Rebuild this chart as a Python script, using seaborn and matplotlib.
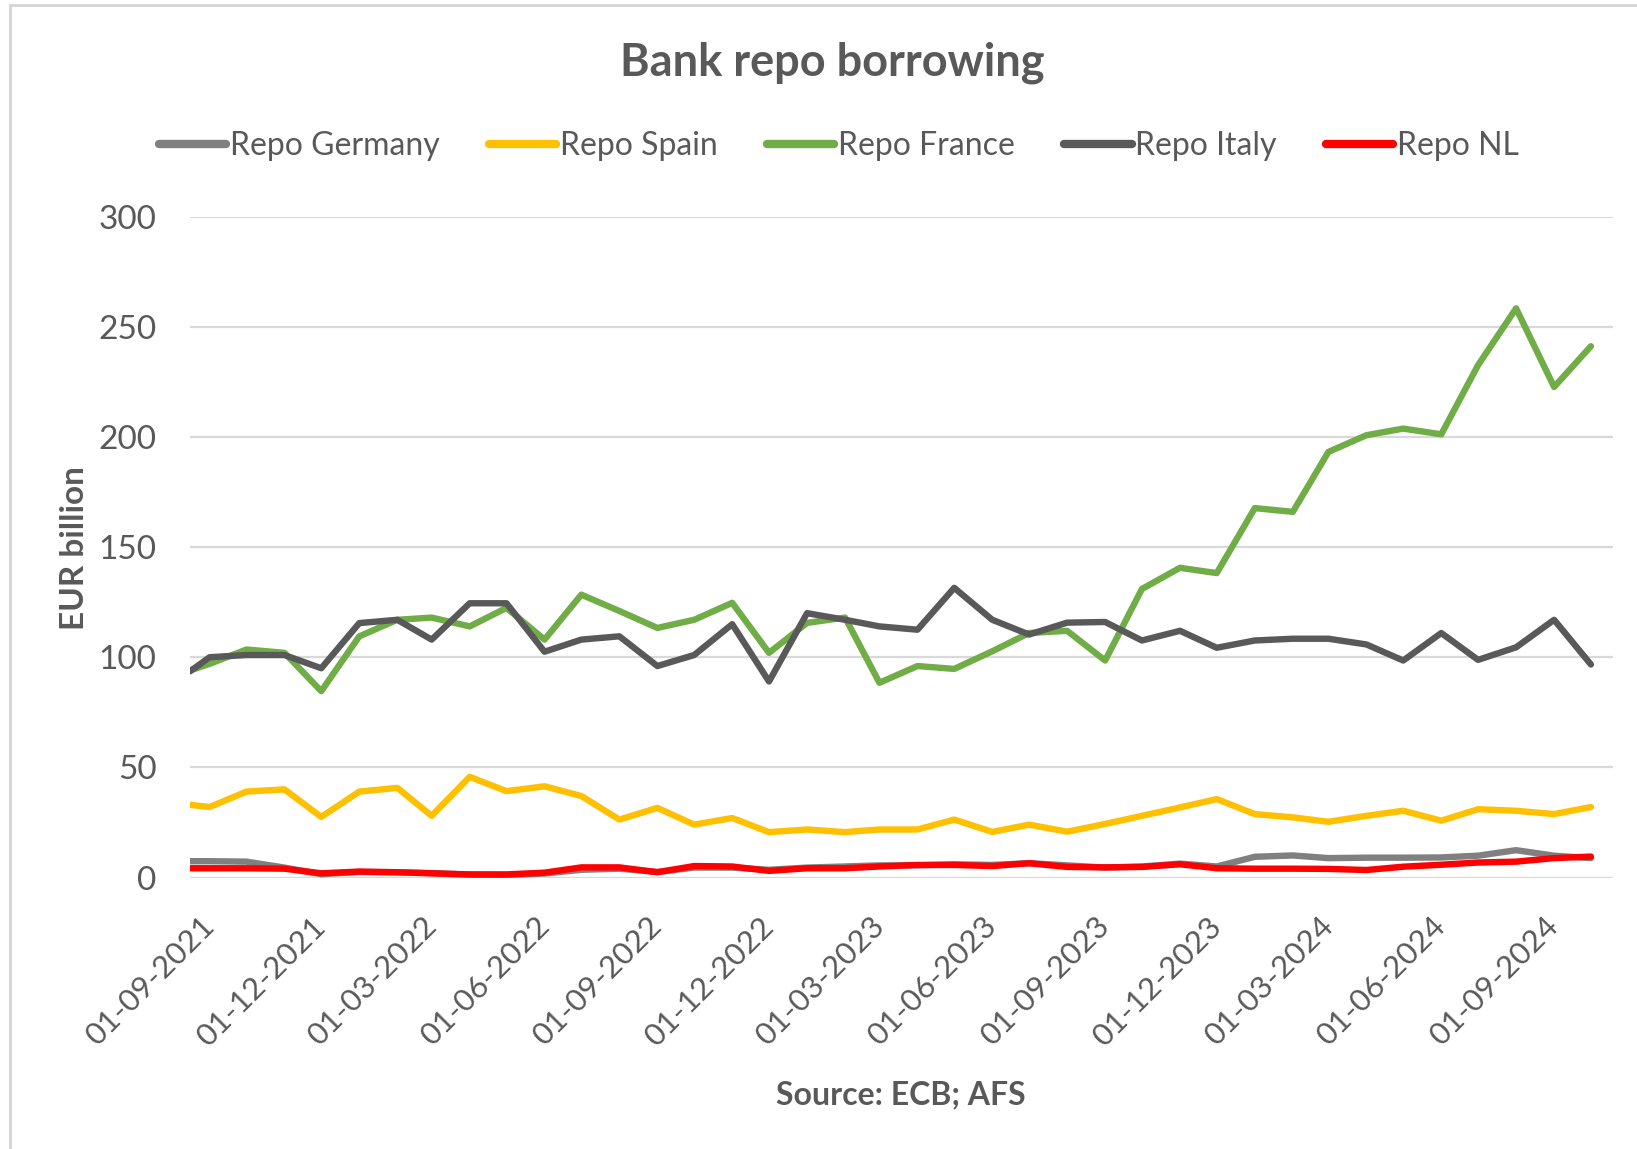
import matplotlib
matplotlib.use("Agg")
import matplotlib.pyplot as plt
import matplotlib.patches as mpatches
import seaborn as sns
import pandas as pd

# ---------------- data ----------------
first_date = ["2021-08-16"]
monthly_dates = [d.strftime("%Y-%m-%d") for d in pd.date_range("2021-09-01", "2024-10-01", freq="MS")]
dates = pd.to_datetime(first_date + monthly_dates)

series_names = ["Repo Germany", "Repo Spain", "Repo France", "Repo Italy", "Repo NL"]
series_colors = ["#808080", "#FFC000", "#70AD47", "#595959", "#FF0000"]

repo_germany = [7.4, 7.4, 7.2, 4.5, 1.5, 2.5, 2.3, 2.0, 1.3, 1.2, 1.8, 3.5, 4.0, 2.5, 4.5,
                4.5, 3.5, 4.5, 5.0, 5.5, 5.5, 6.0, 5.7, 6.5, 5.5, 4.5, 5.0, 6.3, 5.0, 9.4,
                10.0, 8.8, 9.0, 9.0, 9.1, 9.9, 12.4, 9.9, 8.8]
repo_spain = [33.0, 32.0, 39.0, 40.0, 27.5, 39.0, 40.7, 28.0, 45.7, 39.2, 41.4, 37.0, 26.3,
              31.6, 24.0, 27.0, 20.6, 21.8, 20.6, 21.8, 21.8, 26.3, 20.7, 24.0, 20.8, 24.3,
              28.0, 31.8, 35.6, 28.8, 27.3, 25.3, 28.0, 30.3, 25.8, 31.0, 30.3, 28.8, 32.0]
repo_france = [94.0, 97.0, 103.5, 102.0, 84.6, 109.5, 117.0, 118.0, 114.0, 122.4, 108.0,
               128.4, 121.0, 113.3, 117.0, 124.7, 102.0, 115.6, 118.0, 88.4, 96.0, 94.7,
               102.7, 111.0, 112.0, 98.5, 131.0, 140.6, 138.2, 167.7, 166.0, 193.2, 200.8,
               203.8, 201.2, 232.6, 258.4, 222.7, 241.2]
repo_italy = [93.6, 100.0, 101.0, 101.0, 95.0, 115.5, 117.0, 108.0, 124.5, 124.5, 102.5,
              108.0, 109.5, 96.0, 101.0, 115.0, 89.0, 120.0, 117.0, 114.0, 112.5, 131.5,
              117.0, 110.3, 115.7, 116.0, 107.6, 112.0, 104.3, 107.6, 108.4, 108.4, 105.8,
              98.5, 111.0, 98.8, 104.5, 117.0, 96.7]
repo_nl = [4.2, 4.2, 4.2, 4.0, 1.9, 2.7, 2.4, 1.9, 1.4, 1.4, 2.2, 4.6, 4.6, 2.4, 5.2, 5.0,
           3.0, 4.2, 4.2, 5.0, 5.7, 5.7, 5.2, 6.5, 4.8, 4.6, 4.8, 6.0, 4.2, 4.0, 4.0, 3.9,
           3.4, 4.9, 5.8, 6.8, 7.2, 8.8, 9.5]

y_ticks = [0, 50, 100, 150, 200, 250, 300]
x_tick_dates = pd.date_range("2021-09-01", "2024-09-01", freq="3MS")

title = "Bank repo borrowing"
y_label = "EUR billion"
source_text = "Source: ECB; AFS"

# ---------------- build frame ----------------
wide = pd.DataFrame({
    "date": dates,
    "Repo Germany": repo_germany,
    "Repo Spain": repo_spain,
    "Repo France": repo_france,
    "Repo Italy": repo_italy,
    "Repo NL": repo_nl,
})
long = wide.melt(id_vars="date", var_name="series", value_name="value")

# ---------------- style ----------------
sns.set_theme(style="white")
plt.rcParams["font.family"] = ["Lato", "DejaVu Sans"]
text_color = "#595959"

W, H = 1637, 1149
fig = plt.figure(figsize=(W / 100, H / 100), dpi=100)
fig.patch.set_facecolor("white")

# outer chart border (as in the Excel screenshot)
fig.patches.append(mpatches.Rectangle((10 / W, -0.01), 1.02, (H - 5) / H + 0.01,
                                      transform=fig.transFigure, fill=False,
                                      edgecolor="#d4d4d4", linewidth=2.0))

ax = fig.add_axes([190 / W, 1 - 877.5 / H, (1613 - 190) / W, (877.5 - 216.7) / H])

sns.lineplot(data=long, x="date", y="value", hue="series", hue_order=series_names,
             palette=series_colors, linewidth=4.6, ax=ax, legend=True,
             solid_capstyle="round", solid_joinstyle="round")

ax.set_ylim(0, 300)
ax.set_xlim(pd.Timestamp("2021-08-16"), pd.Timestamp("2024-10-19"))
ax.set_yticks(y_ticks)
ax.set_yticklabels([str(v) for v in y_ticks])
ax.set_xticks(x_tick_dates)
ax.set_xticklabels([d.strftime("%d-%m-%Y") for d in x_tick_dates],
                   rotation=45, ha="right", va="center", rotation_mode="anchor")

ax.yaxis.grid(True, color="#d9d9d9", linewidth=1.6)
ax.xaxis.grid(False)
ax.set_axisbelow(True)
for s in ax.spines.values():
    s.set_visible(False)
ax.tick_params(axis="y", length=0, pad=24, labelsize=24, labelcolor=text_color)
ax.tick_params(axis="x", length=0, pad=32, labelsize=22.5, labelcolor=text_color)
ax.set_xlabel("")
ax.set_ylabel("")

# legend
handles, labels = ax.get_legend_handles_labels()
if ax.get_legend() is not None:
    ax.get_legend().remove()
leg = fig.legend(handles, labels, loc="center", bbox_to_anchor=(839 / W, 1 - 146 / H),
                 ncol=5, frameon=False, fontsize=23, handlelength=2.1,
                 handletextpad=0.12, columnspacing=1.55, labelcolor=text_color)
for line in leg.get_lines():
    line.set_linewidth(6)
    line.set_solid_capstyle("round")

fig.text(832 / W, 1 - 63 / H, title, ha="center", va="center", fontsize=32.5,
         fontweight="bold", color=text_color)
fig.text(75 / W, 1 - 548 / H, y_label, ha="center", va="center", rotation=90,
         fontsize=24, fontweight="bold", color=text_color)
fig.text(901 / W, 1 - 1095 / H, source_text, ha="center", va="center",
         fontsize=23, fontweight="bold", color=text_color)

fig.savefig("out.png", dpi=100, facecolor="white")
